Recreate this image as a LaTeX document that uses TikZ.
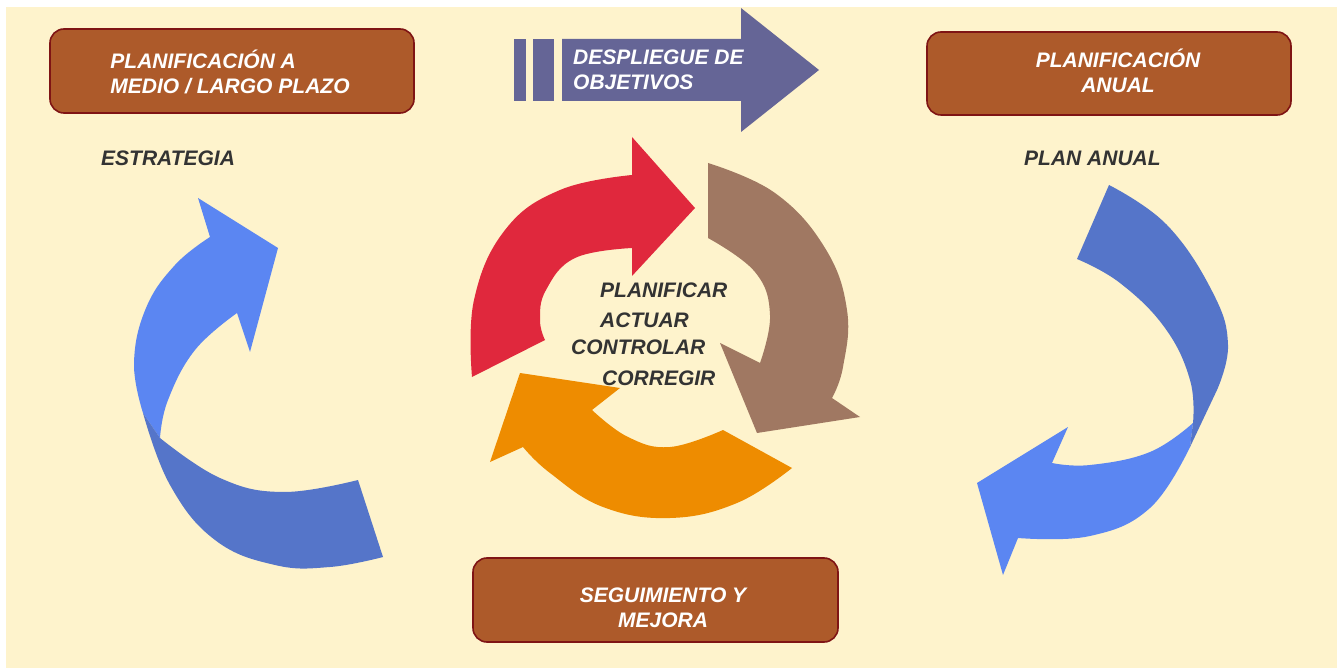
\documentclass[tikz,border=0pt]{standalone}
\usepackage{fontspec}
\setmainfont{Liberation Sans}
\usepackage{xcolor}
\definecolor{fondo}{HTML}{FEF3CC}
\definecolor{teja}{HTML}{AD5A2A}
\definecolor{tejaborde}{HTML}{7F1414}
\definecolor{violeta}{HTML}{656596}
\definecolor{rojo}{HTML}{E0283D}
\definecolor{marron}{HTML}{A07862}
\definecolor{naranja}{HTML}{EE8C00}
\definecolor{azulclaro}{HTML}{5B86F2}
\definecolor{azuloscuro}{HTML}{5575C9}
\definecolor{gris}{HTML}{333333}
\usepackage{tikz}
\tikzset{
  etapa/.style ={rectangle, rounded corners=14pt, draw=tejaborde, line width=1.6pt,
                 fill=teja, minimum width=364pt, minimum height=84pt},
  etxt/.style  ={text=white, font=\fontsize{21}{25}\selectfont\bfseries\itshape,
                 inner sep=0pt, align=center},
  rotulo/.style={text=gris, font=\fontsize{21}{25}\selectfont\bfseries\itshape,
                 inner sep=0pt, anchor=base west},
  curva/.style ={smooth, tension=0.7},
}

\begin{document}
\begin{tikzpicture}[x=1pt, y=-1pt]
  \useasboundingbox (0,0) rectangle (1339,668);
  \fill[white] (0,0) rectangle (1339,668);
  \fill[fondo] (6,7) rectangle (1337,669);

  % cajas de etapas
  \node[etapa] (medio) at (232,71) {};
  \node[etapa, minimum height=83pt] (anual) at (1109,73.5) {};
  \node[etapa, minimum width=365pt] (seguim) at (655.5,600) {};
  \node[etxt, align=left] (mediotxt) at ([xshift=-2pt, yshift=-1pt]medio.center) {PLANIFICACIÓN A\\MEDIO / LARGO PLAZO};
  \node[etxt] (anualtxt) at ([xshift=9pt, yshift=2.5pt]anual.center) {PLANIFICACIÓN\\ANUAL};
  \node[etxt] (seguimtxt) at ([xshift=7.5pt, yshift=-8pt]seguim.center) {SEGUIMIENTO Y\\MEJORA};
  \node[rotulo] (estrategia) at (101,166) {ESTRATEGIA};
  \node[rotulo] (plananual) at (1024,166) {PLAN ANUAL};

  % flecha de despliegue
  \fill[violeta] (514,39) rectangle (526,101);
  \fill[violeta] (533,39) rectangle (554,101);
  \fill[violeta] (562,39) -- (741,39) -- (741,8) -- (819,70) -- (741,132) -- (741,101) -- (562,101) -- cycle;
  \node[etxt, align=left, anchor=west] (despltxt) at (573,70) {DESPLIEGUE DE\\OBJETIVOS};

  % ciclo central
  \fill[rojo] (545,340) -- (472,377)
    -- plot[curva] coordinates {(472,377) (474,300) (505,230) (560,190) (632,175)}
    -- (632,137) -- (695,208) -- (632,276) -- (632,248)
    -- plot[curva] coordinates {(632,248) (575,258) (546,290) (540,320) (545,340)} -- cycle;
  \fill[marron] (708,238) -- (708,163)
    -- plot[curva] coordinates {(708,163) (775,193) (825,248) (847,310) (843,367) (832,398)}
    -- (860,417) -- (757,433) -- (720,343) -- (760,363)
    -- plot[curva] coordinates {(760,363) (770,315) (755,272) (708,238)} -- cycle;
  \fill[naranja] (723,430) -- (792,468)
    -- plot[curva] coordinates {(792,468) (737,503) (670,518) (603,507) (550,473) (523,447)}
    -- (490,462) -- (520,373) -- (620,388) -- (592,410)
    -- plot[curva] coordinates {(592,410) (628,437) (670,447) (723,430)} -- cycle;
  \node[rotulo] (planificar) at (600,298) {PLANIFICAR};
  \node[rotulo] (actuar) at (600,327) {ACTUAR};
  \node[rotulo] (controlar) at (571,355) {CONTROLAR};
  \node[rotulo] (corregir) at (602,385) {CORREGIR};

  % flecha izquierda
  \fill[azulclaro] (210,237) -- (198,198) -- (278,248) -- (250,352) -- (237,313)
    -- plot[curva] coordinates {(237,313) (195,350) (168,400) (160,438)}
    -- (143,413)
    -- plot[curva] coordinates {(143,413) (134,363) (146,308) (175,265) (210,237)} -- cycle;
  \fill[azuloscuro] (160,438) -- (143,413)
    -- plot[curva] coordinates {(143,413) (170,485) (215,540) (275,565) (330,567) (383,557)}
    -- (358,480)
    -- plot[curva] coordinates {(358,480) (283,492) (220,478) (160,438)} -- cycle;

  % flecha derecha
  \fill[azulclaro] (1190,447) -- (1193,423)
    -- plot[curva] coordinates {(1193,423) (1150,452) (1090,465) (1052,463)}
    -- (1068,427) -- (977,483) -- (1003,575) -- (1018,538)
    -- plot[curva] coordinates {(1018,538) (1090,536) (1150,508) (1190,447)} -- cycle;
  \fill[azuloscuro] (1077,259) -- (1109,185)
    -- plot[curva] coordinates {(1109,185) (1167,225) (1213,293) (1228,345) (1217,390)}
    -- (1190,447) -- (1193,423)
    -- plot[curva] coordinates {(1193,423) (1190,380) (1165,328) (1120,283) (1077,259)} -- cycle;
\end{tikzpicture}
\end{document}
